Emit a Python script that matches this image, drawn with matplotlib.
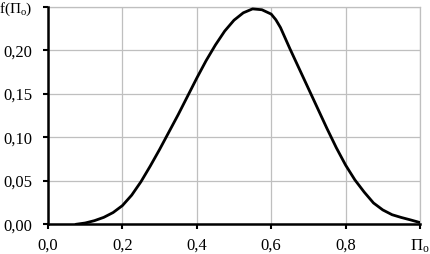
import matplotlib
matplotlib.use("Agg")
import matplotlib.pyplot as plt

# values
p_values = [0.075, 0.100, 0.125, 0.150, 0.175, 0.200, 0.225, 0.250, 0.275, 0.300,
            0.325, 0.350, 0.375, 0.400, 0.425, 0.450, 0.475, 0.500, 0.525, 0.550,
            0.575, 0.600, 0.6125, 0.625, 0.650, 0.675, 0.700, 0.725, 0.750, 0.775,
            0.800, 0.825, 0.850, 0.875, 0.900, 0.925, 0.950, 0.975, 1.000]
f_values = [0.0000, 0.0015, 0.0042, 0.0080, 0.0135, 0.0215, 0.0335, 0.0490, 0.0670, 0.0860,
            0.1060, 0.1260, 0.1470, 0.1680, 0.1880, 0.2060, 0.2220, 0.2345, 0.2430, 0.2475,
            0.2465, 0.2415, 0.2350, 0.2260, 0.2020, 0.1790, 0.1560, 0.1330, 0.1100, 0.0880,
            0.0680, 0.0510, 0.0370, 0.0245, 0.0165, 0.0110, 0.0078, 0.0050, 0.0020]

x_ticks = [0.0, 0.2, 0.4, 0.6, 0.8, 1.0]
x_labels = ["0,0", "0,2", "0,4", "0,6", "0,8", r"$\Pi_\mathrm{o}$"]
y_ticks = [0.00, 0.05, 0.10, 0.15, 0.20, 0.25]
y_labels = ["0,00", "0,05", "0,10", "0,15", "0,20", r"f($\Pi_\mathrm{o}$)"]

plt.rcParams['font.family'] = ['Liberation Serif', 'DejaVu Serif']
plt.rcParams['mathtext.fontset'] = 'custom'
plt.rcParams['mathtext.rm'] = 'Liberation Serif'
plt.rcParams['mathtext.it'] = 'Liberation Serif:italic'

fig = plt.figure(figsize=(4.31, 2.54), dpi=100)
ax = fig.add_axes([48 / 431, 1 - 224.3 / 254, 372 / 431, 217.6 / 254])

ax.plot(p_values, f_values, color='black', linewidth=2.0,
        solid_capstyle='round', solid_joinstyle='round', zorder=3)

ax.set_xlim(0, 1.0)
ax.set_ylim(0, 0.25)
ax.set_xticks(x_ticks)
ax.set_xticklabels(x_labels)
ax.set_yticks(y_ticks)
ax.set_yticklabels(y_labels)

ax.grid(True, color='#bfbfbf', linewidth=0.9)
ax.set_axisbelow(True)
for side in ['top', 'right']:
    ax.spines[side].set_color('#bfbfbf')
    ax.spines[side].set_linewidth(0.9)
for side in ['left', 'bottom']:
    ax.spines[side].set_color('black')
    ax.spines[side].set_linewidth(1.8)
    ax.spines[side].set_zorder(4)

ax.tick_params(axis='both', direction='out', length=3.6, width=1.5, color='black', labelsize=12)
ax.tick_params(axis='y', pad=7.5)
ax.tick_params(axis='x', pad=6)

# the axis name sits in place of the top tick label, keep it inside the figure
ax.get_yticklabels()[-1].set_fontsize(11)

fig.savefig("out.png", dpi=100)
